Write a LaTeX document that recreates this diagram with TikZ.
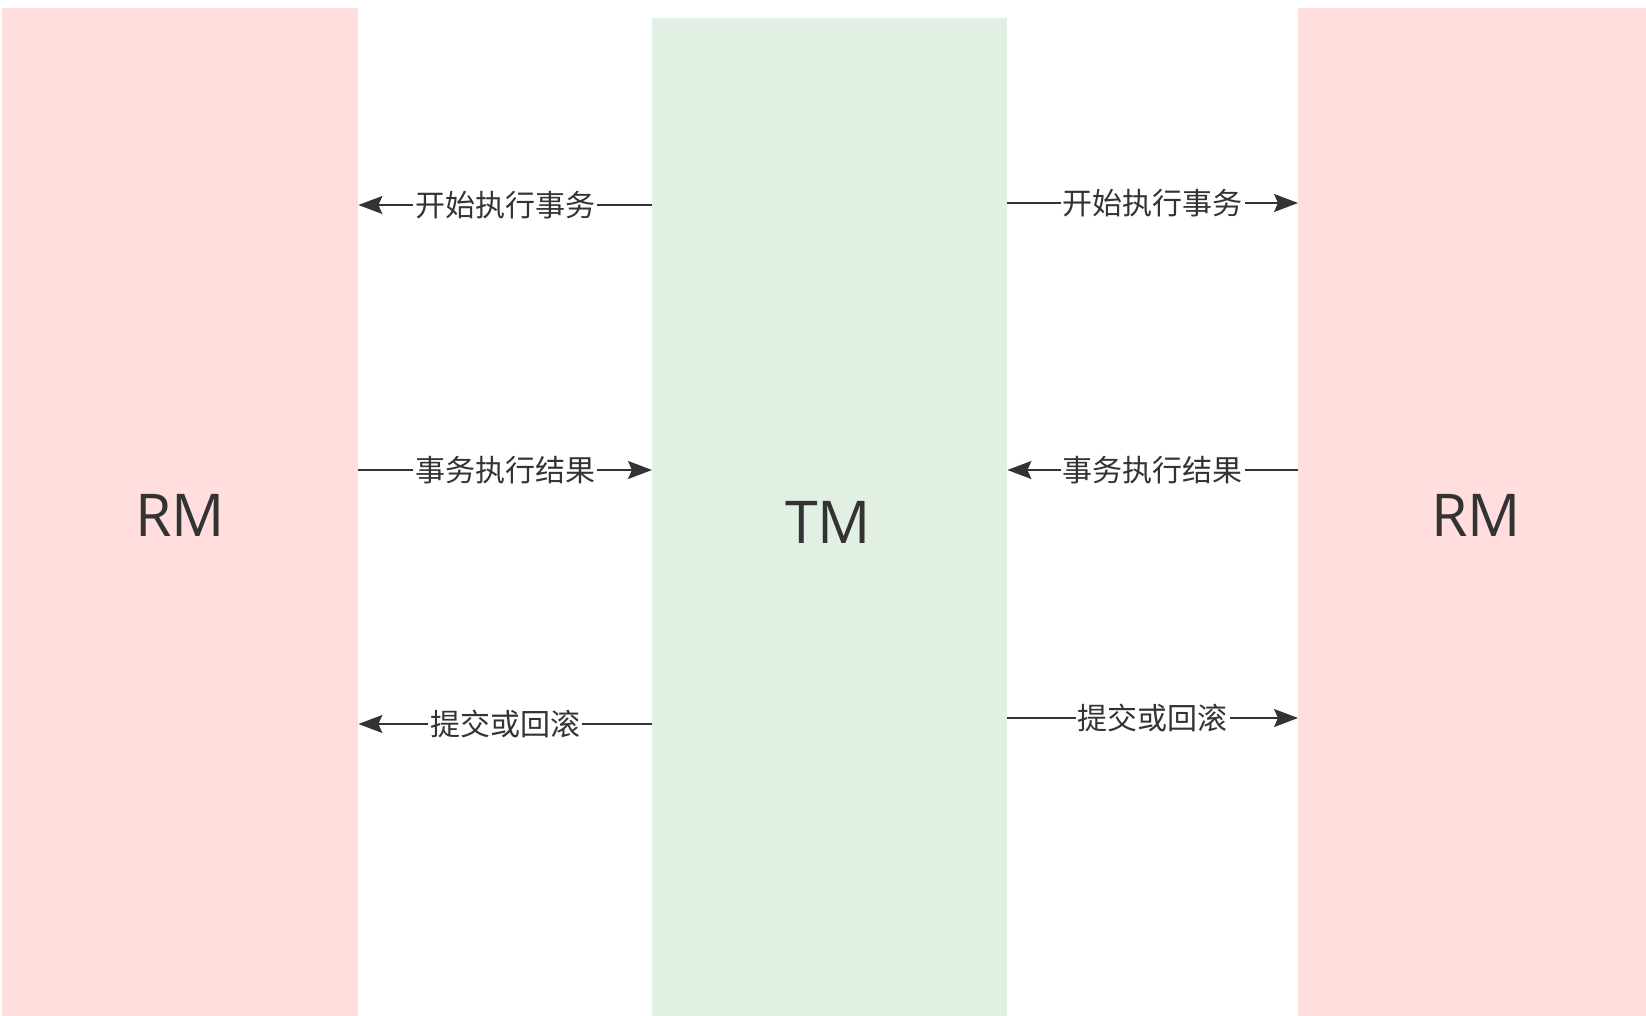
\documentclass[tikz,border=0pt]{standalone}
\usepackage{fontspec}
\newfontfamily\cjk{Noto Sans CJK SC}
\newfontfamily\lat{Open Sans}
\usetikzlibrary{arrows.meta}
\definecolor{rmfill}{RGB}{255,222,221}
\definecolor{tmfill}{RGB}{225,240,226}
\definecolor{ink}{RGB}{51,51,51}
\tikzset{
  col/.style={draw=none, rectangle, inner sep=0pt, anchor=north west},
  big/.style={text=ink, font=\lat\fontsize{59}{61}\selectfont},
  arr/.style={draw=ink, line width=1.6pt, -{Stealth[length=24pt,width=18pt,inset=4pt]}},
  lbl/.style={fill=white, text=ink, inner sep=2pt, font=\cjk\fontsize{30}{32}\selectfont}
}
\begin{document}
\begin{tikzpicture}[x=1pt,y=1pt]
\useasboundingbox[fill=white] (0,0) rectangle (1646,-1016);
\node[col, fill=rmfill, minimum width=356pt, minimum height=1008pt] (rm1) at (2,-8) {};
\node[col, fill=tmfill, minimum width=355pt, minimum height=998pt] (tm) at (652,-18) {};
\node[col, fill=rmfill, minimum width=348pt, minimum height=1008pt] (rm2) at (1298,-8) {};
\node[big] (rm1t) at (180,-515) {RM};
\node[big] (tmt) at (828,-522) {TM};
\node[big] (rm2t) at (1476,-515) {RM};
% left side
\draw[arr] (tm.west |- 0,-205) -- node[lbl]{开始执行事务} (rm1.east |- 0,-205);
\draw[arr] (rm1.east |- 0,-470) -- node[lbl]{事务执行结果} (tm.west |- 0,-470);
\draw[arr] (tm.west |- 0,-724) -- node[lbl]{提交或回滚} (rm1.east |- 0,-724);
% right side
\draw[arr] (tm.east |- 0,-203) -- node[lbl]{开始执行事务} (rm2.west |- 0,-203);
\draw[arr] (rm2.west |- 0,-470) -- node[lbl]{事务执行结果} (tm.east |- 0,-470);
\draw[arr] (tm.east |- 0,-718) -- node[lbl]{提交或回滚} (rm2.west |- 0,-718);
\end{tikzpicture}
\end{document}
